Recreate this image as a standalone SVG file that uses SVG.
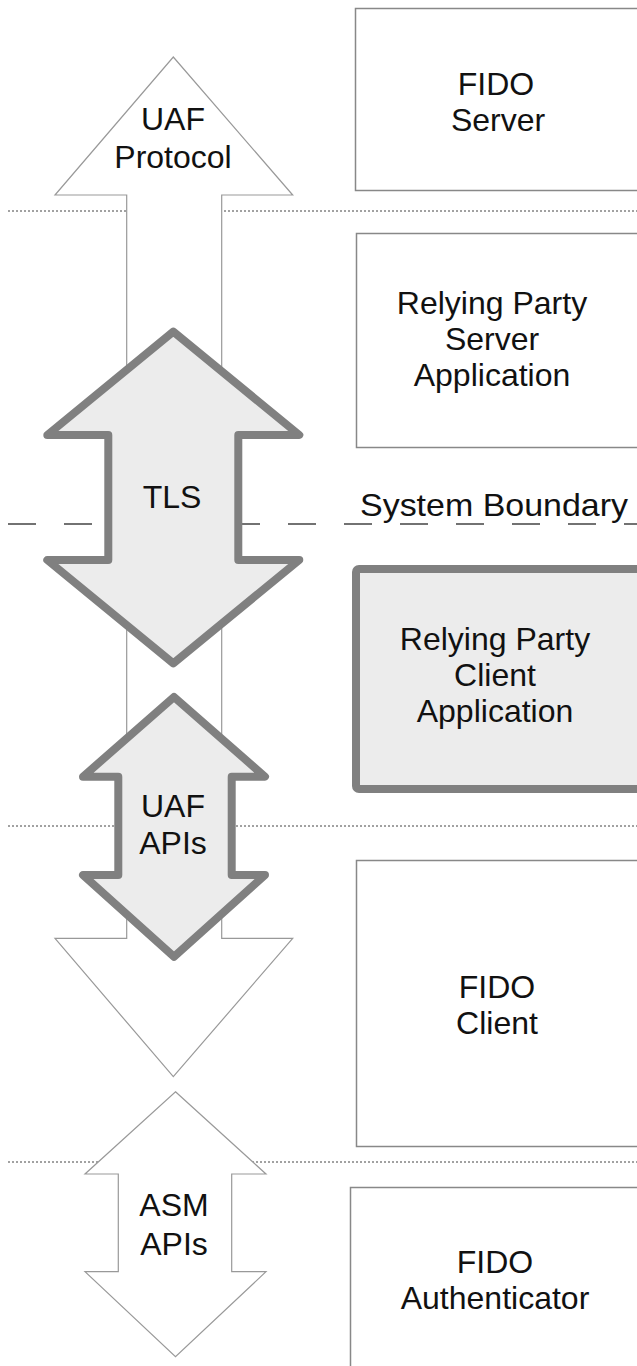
<svg xmlns="http://www.w3.org/2000/svg" width="637" height="1366" viewBox="0 0 637 1366">
<style>
text{font-family:"Liberation Sans",Arial,sans-serif;font-size:32px;fill:#111;text-anchor:middle}
.box{fill:#fff;stroke:#888;stroke-width:1.5}
.thick{fill:#ececec;stroke:#808080;stroke-width:8;stroke-linejoin:round}
.thin{fill:#fff;stroke:#999;stroke-width:1.2}
.dot{stroke:#444;stroke-width:1;stroke-dasharray:2 2;fill:none}
.dash{stroke:#444;stroke-width:1.5;stroke-dasharray:28 28;fill:none}
</style>
<rect width="637" height="1366" fill="#fff"/>
<g id="separators">
<line class="dot" x1="8" y1="211" x2="637" y2="211"/>
<line class="dot" x1="8" y1="826" x2="637" y2="826"/>
<line class="dot" x1="8" y1="1162" x2="637" y2="1162"/>
<line class="dash" x1="8" y1="524" x2="637" y2="524"/>
</g>
<g id="fido-server"><rect class="box" x="355.5" y="8.5" width="300" height="182"/><text x="496" y="95">FIDO</text><text x="498" y="131">Server</text></g>
<g id="rp-server"><rect class="box" x="356.5" y="233.5" width="300" height="214"/><text x="492" y="314">Relying Party</text><text x="492" y="350">Server</text><text x="492" y="386">Application</text></g>
<g id="system-boundary"><text x="360" y="516" textLength="268" lengthAdjust="spacingAndGlyphs" style="text-anchor:start">System Boundary</text></g>
<g id="rp-client"><rect class="thick" x="356" y="569" width="300" height="220" rx="3"/><text x="495" y="650">Relying Party</text><text x="495" y="686">Client</text><text x="495" y="722">Application</text></g>
<g id="fido-client"><rect class="box" x="356.5" y="860.5" width="300" height="286"/><text x="497" y="998">FIDO</text><text x="497" y="1034">Client</text></g>
<g id="fido-authenticator"><rect class="box" x="350.5" y="1187.5" width="300" height="200"/><text x="495" y="1273">FIDO</text><text x="495" y="1309">Authenticator</text></g>
<g id="connectors">
<g id="uaf-protocol"><path class="thin" d="M173.3,57 L292.7,195 L221.7,195 L221.7,938.3 L292.7,938.3 L173.3,1076.7 L55,938.3 L126.7,938.3 L126.7,195 L55,195 Z"/><text x="173" y="130">UAF</text><text x="173" y="168">Protocol</text></g>
<g id="tls"><path class="thick" d="M173.3,331.7 L299.3,435 L238.3,435 L238.3,560 L299.3,560 L173.3,663.3 L47.3,560 L108.3,560 L108.3,435 L47.3,435 Z"/><text x="172" y="508">TLS</text></g>
<g id="uaf-apis"><path class="thick" d="M174,697 L265,776.7 L231.7,776.7 L231.7,875 L265,875 L174,956.7 L83,875 L118.3,875 L118.3,776.7 L83,776.7 Z"/><text x="173" y="817">UAF</text><text x="173" y="854">APIs</text></g>
<g id="asm-apis"><path class="thin" d="M175.5,1091.7 L266,1174 L231.7,1174 L231.7,1271.7 L266,1271.7 L175.5,1356.7 L85,1271.7 L118.3,1271.7 L118.3,1174 L85,1174 Z"/><text x="174" y="1216">ASM</text><text x="174" y="1255">APIs</text></g>
</g>
</svg>
